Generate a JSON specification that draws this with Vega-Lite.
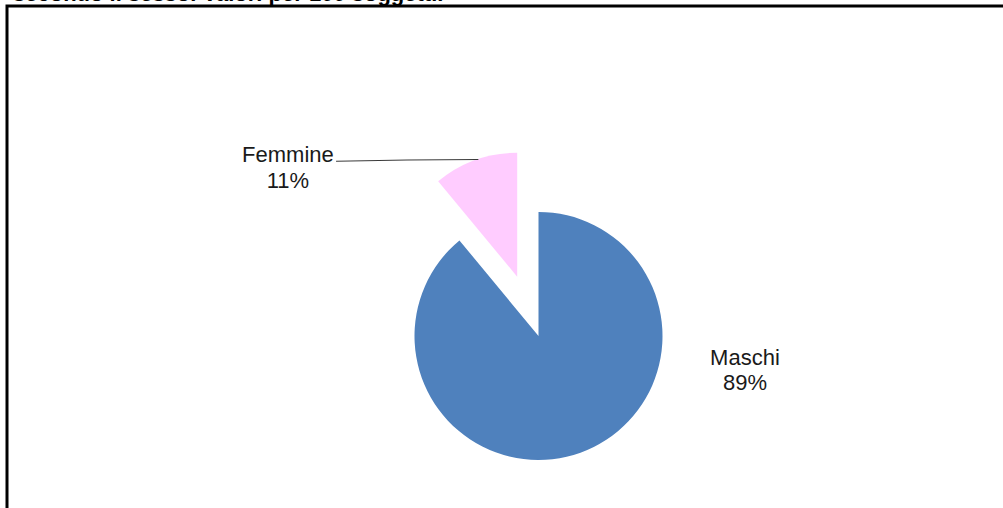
{
  "$schema": "https://vega.github.io/schema/vega-lite/v6.json",
  "autosize": {"type": "none"},
  "padding": {"left": 7, "top": 6, "right": -67, "bottom": -158},
  "width": 1063,
  "height": 660,
  "view": {"stroke": "#000000", "strokeWidth": 3},
  "title": {
    "text": "secondo il sesso. Valori per 100 soggetti.",
    "anchor": "start",
    "frame": "group",
    "font": "Liberation Sans",
    "fontSize": 22,
    "fontWeight": "bold",
    "color": "#000000",
    "baseline": "alphabetic",
    "offset": 3,
    "dx": 6,
    "dy": 20
  },
  "data": {
    "values": [
      {"sex": "Maschi", "value": 89},
      {"sex": "Femmine", "value": 11}
    ]
  },
  "transform": [
    {"calculate": "datum.sex + '\\n' + datum.value + '%'", "as": "label"}
  ],
  "layer": [
    {
      "mark": {
        "type": "arc",
        "radius": 124,
        "xOffset": {"expr": "datum.sex === 'Femmine' ? -21.3 : 0"},
        "yOffset": {"expr": "datum.sex === 'Femmine' ? -59.3 : 0"}
      },
      "encoding": {
        "theta": {"field": "value", "type": "quantitative", "stack": true},
        "order": {"field": "sex", "sort": "descending"},
        "color": {
          "field": "sex",
          "type": "nominal",
          "scale": {"domain": ["Maschi", "Femmine"], "range": ["#4F81BD", "#FFCCFF"]},
          "legend": null
        }
      }
    },
    {
      "transform": [{"filter": "datum.sex === 'Femmine'"}],
      "mark": {
        "type": "arc",
        "theta": -0.019065,
        "theta2": -0.004835,
        "radius": 10000.5,
        "radius2": 9999.5,
        "xOffset": -11.8,
        "yOffset": 9823.5,
        "color": "#3a3a3a"
      },
      "encoding": {}
    },
    {
      "transform": [{"filter": "datum.sex === 'Femmine'"}],
      "mark": {
        "type": "text",
        "theta": -0.9446,
        "radius": 309.2,
        "align": "center",
        "baseline": "middle",
        "lineBreak": "\n",
        "lineHeight": 26,
        "font": "Liberation Sans",
        "fontSize": 22,
        "color": "#1a1a1a"
      },
      "encoding": {"text": {"field": "label"}}
    },
    {
      "transform": [{"filter": "datum.sex === 'Maschi'"}],
      "mark": {
        "type": "text",
        "theta": 1.6761,
        "radius": 207.6,
        "align": "center",
        "baseline": "middle",
        "lineBreak": "\n",
        "lineHeight": 25,
        "font": "Liberation Sans",
        "fontSize": 22,
        "color": "#1a1a1a"
      },
      "encoding": {"text": {"field": "label"}}
    }
  ]
}
